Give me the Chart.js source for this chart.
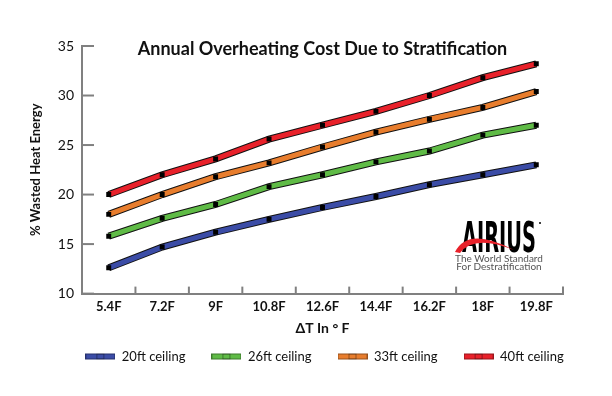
<!DOCTYPE html>
<html>
<head>
<meta charset="utf-8">
<script src="https://cdn.jsdelivr.net/npm/chart.js@4"></script>
<style>
  html, body { margin: 0; padding: 0; background: #fff; }
  #wrap { width: 612px; height: 396px; }
</style>
</head>
<body>
<div id="wrap"><canvas id="chartOneContainer" width="612" height="396"></canvas></div>
<script>
// data
const categories = ['5.4F', '7.2F', '9F', '10.8F', '12.6F', '14.4F', '16.2F', '18F', '19.8F'];
const ceiling20 = [12.6, 14.7, 16.2, 17.5, 18.7, 19.8, 21.0, 22.0, 23.0];
const ceiling26 = [15.8, 17.6, 19.0, 20.8, 22.0, 23.3, 24.4, 26.0, 27.0];
const ceiling33 = [18.0, 20.0, 21.8, 23.2, 24.8, 26.3, 27.6, 28.8, 30.4];
const ceiling40 = [20.0, 22.0, 23.6, 25.6, 27.0, 28.4, 30.0, 31.8, 33.2];
const seriesNames = ['20ft ceiling', '26ft ceiling', '33ft ceiling', '40ft ceiling'];
const yTicks = [10, 15, 20, 25, 30, 35];

const colors = ['#3b4ca6', '#5fbb46', '#e87d2d', '#e8212a'];
const allSeries = [ceiling20, ceiling26, ceiling33, ceiling40];

const canvas = document.getElementById('chartOneContainer');
const ctx = canvas.getContext("2d");

// legend swatch: coloured bar with a small square in the middle
function swatch(color) {
    const c = document.createElement('canvas');
    c.width = 30; c.height = 8;
    const g = c.getContext('2d');
    g.fillStyle = color;
    g.fillRect(0, 1, 30, 6);
    g.strokeStyle = 'rgba(0,0,0,0.35)';
    g.lineWidth = 1;
    g.strokeRect(0.5, 1.5, 29, 5);
    g.strokeRect(11.5, 1.5, 7, 5);
    return c;
}

let datasets = [];
allSeries.forEach((vals, i) => {
    // black outline behind the coloured line
    datasets.push({
        label: '_outline' + i,
        data: vals,
        borderColor: '#111',
        borderWidth: 7,
        pointRadius: 0,
        tension: 0,
        order: 10,
    });
    datasets.push({
        label: seriesNames[i],
        data: vals,
        borderColor: colors[i],
        backgroundColor: colors[i],
        borderWidth: 5,
        pointStyle: 'rect',
        pointRadius: 3.5,
        pointBackgroundColor: '#000',
        pointBorderColor: '#000',
        pointBorderWidth: 0,
        tension: 0,
        order: 1,
    });
});

const extras = {
    id: 'extras',
    afterLayout(chart) {
        // nudge the legend up and to the right
        const lg = chart.legend;
        lg.top -= 13; lg.bottom -= 13;
        lg.left += 29; lg.right += 29;
    },
    afterDraw(chart) {
        const c = chart.ctx;
        const a = chart.chartArea;
        const xs = chart.scales.x, ys = chart.scales.y;
        c.save();
        // inward tick marks
        c.strokeStyle = '#808080';
        c.lineWidth = 2;
        yTicks.forEach(v => {
            const y = ys.getPixelForValue(v);
            c.beginPath(); c.moveTo(a.left, y); c.lineTo(a.left + 12, y); c.stroke();
        });
        for (let i = 1; i <= categories.length; i++) {
            const x = xs.getPixelForValue(i - 0.5);
            c.beginPath(); c.moveTo(x, a.bottom); c.lineTo(x, a.bottom - 7); c.stroke();
        }
        // title inside the plot
        c.fillStyle = '#111';
        c.font = 'bold 18px Lato';
        c.textAlign = 'center';
        c.textBaseline = 'alphabetic';
        c.fillText('Annual Overheating Cost Due to Stratification', (a.left + a.right) / 2, a.top + 9);

        // logo
        const lx = 499, ly = 252;
        c.font = 'bold 30px "Liberation Sans Narrow", "DejaVu Sans Condensed", sans-serif';
        const w = c.measureText('AIRIUS').width;
        c.save();
        c.translate(lx, ly);
        c.scale(74 / w, 1.4);
        c.fillStyle = '#000';
        c.textAlign = 'center';
        c.fillText('AIRIUS', 0, 0);
        c.restore();
        c.fillStyle = '#e8212a';
        c.beginPath();
        c.moveTo(455, 252);
        c.quadraticCurveTo(468, 226, 514, 250);
        c.quadraticCurveTo(474, 234, 460, 253);
        c.closePath();
        c.fill();
        c.fillStyle = '#000';
        c.beginPath(); c.arc(540, 223, 1, 0, Math.PI * 2); c.fill();
        c.fillStyle = '#555';
        c.font = '10px Lato';
        c.textAlign = 'center';
        c.fillText('The World Standard', 499, 262);
        c.fillText('For Destratification', 499, 270);
        c.restore();
    }
};

let chart_one = new Chart(ctx, {
    type: 'line',
    data: {
        labels: categories,
        datasets: datasets
    },
    options: {
        responsive: false,
        animation: false,
        layout: {
            padding: { left: 28, right: 49, top: 46, bottom: 10 }
        },
        plugins: {
            title: { display: false },
            tooltip: { enabled: false },
            legend: {
                position: 'bottom',
                labels: {
                    filter: (item) => !item.text.startsWith('_'),
                    usePointStyle: true,
                    pointStyleWidth: 30,
                    boxHeight: 8,
                    generateLabels: (chart) => {
                        const items = Chart.defaults.plugins.legend.labels.generateLabels(chart);
                        items.forEach(it => {
                            const ds = chart.data.datasets[it.datasetIndex];
                            it.pointStyle = swatch(ds.borderColor);
                        });
                        return items;
                    },
                    font: { family: 'Lato', size: 13 },
                    color: '#111',
                    padding: 26,
                }
            }
        },
        scales: {
            x: {
                offset: true,
                grid: { display: false, drawTicks: false },
                border: { color: '#808080', width: 2 },
                ticks: {
                    font: { family: 'Lato', size: 13, weight: 'bold' },
                    color: '#111',
                    padding: 5,
                    maxRotation: 0,
                },
                title: {
                    display: true,
                    text: 'ΔT In ° F',
                    font: { family: 'Lato', size: 14, weight: 'bold' },
                    color: '#111',
                    padding: { top: 1, bottom: 0 },
                }
            },
            y: {
                min: 10,
                max: 35,
                grid: { display: false, drawTicks: false },
                border: { color: '#808080', width: 2 },
                afterFit: (scale) => { scale.width = 54; },
                ticks: {
                    stepSize: 5,
                    font: { family: 'Lato', size: 14 },
                    color: '#111',
                    padding: 8,
                },
                title: {
                    display: true,
                    text: '% Wasted Heat Energy',
                    font: { family: 'Lato', size: 13, weight: 'bold' },
                    color: '#111',
                    padding: { top: 0, bottom: 0 },
                }
            }
        }
    },
    plugins: [extras]
});
</script>
</body>
</html>
